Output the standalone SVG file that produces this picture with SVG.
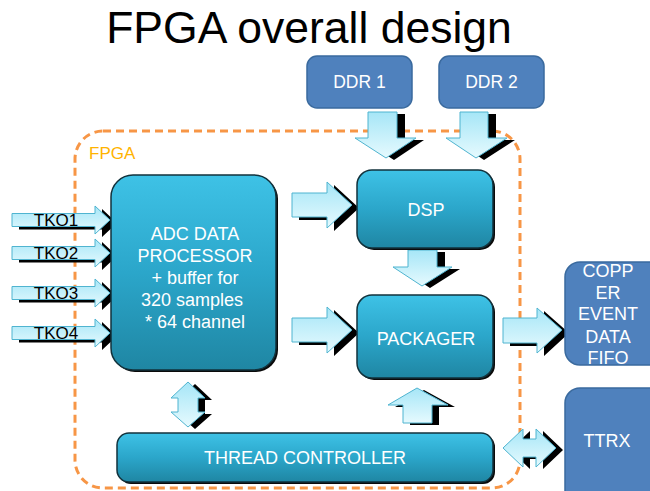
<svg xmlns="http://www.w3.org/2000/svg" xmlns:xlink="http://www.w3.org/1999/xlink" width="650" height="491" viewBox="0 0 650 491">
<style>
text{font-family:"Liberation Sans",Arial,sans-serif}
.title{font-size:44.5px;fill:#000}
.lbl{font-size:18px;fill:#fff;text-anchor:middle}
.tko{font-size:17px;fill:#000;text-anchor:middle}
.blue{fill:#4F81BD;stroke:#3A6A9E;stroke-width:1.5}
.box{fill:url(#boxg);stroke:#12323c;stroke-width:1.5}
.boxsh{fill:#0a0a0a}
.arr{fill:url(#arrg);stroke:#4FB4D0;stroke-width:1}
.sh{fill:#000}
.border{fill:none;stroke:#F79646;stroke-width:3;stroke-dasharray:8 5}
</style>
<defs>
<linearGradient id="boxg" x1="0" y1="0" x2="0" y2="1">
<stop offset="0" stop-color="#3EC2E6"/>
<stop offset="0.5" stop-color="#2BA6CA"/>
<stop offset="1" stop-color="#1F86A3"/>
</linearGradient>
<linearGradient id="arrg" x1="0" y1="0" x2="0" y2="1">
<stop offset="0" stop-color="#A6E6F7"/>
<stop offset="1" stop-color="#E6FAFE"/>
</linearGradient>
<path id="pT1" d="M12,213.5 H95 V206 L110,220 L95,234 V226.5 H12 Z"/>
<path id="pT2" d="M12,246.5 H95 V239 L110,253 L95,267 V259.5 H12 Z"/>
<path id="pT3" d="M12,286.5 H95 V279 L110,293 L95,307 V299.5 H12 Z"/>
<path id="pT4" d="M12,326.5 H95 V319 L110,333 L95,347 V339.5 H12 Z"/>
<path id="pD1" d="M368,112 H397 V138 H416 L386,158 L355,138 H368 Z"/>
<path id="pD2" d="M460,112 H488 V138 H507 L476,158 L446,138 H460 Z"/>
<path id="pDSP" d="M292,193 H327 V182 L352,205 L327,228 V217 H292 Z"/>
<path id="pPK" d="M292,318 H327 V307 L352,330 L327,353 V342 H292 Z"/>
<path id="pDP" d="M408,250 H437 V267 H452 L422,286 L393,267 H408 Z"/>
<path id="pOut" d="M503,318 H537 V308 L562,330 L537,353 V343 H503 Z"/>
<path id="pUp" d="M403,423 V405 H388 L417,388 L448,405 H432 V423 Z"/>
<path id="pV" d="M188,382 L205,398 H198 V412 H205 L188,427 L171,412 H178 V398 H171 Z"/>
<path id="pTT" d="M503,448 L523,429 V439 H536 V429 L556,448 L536,467 V457 H523 V467 Z"/>
</defs>
<rect width="650" height="491" fill="#fff"/>
<text class="title" x="309" y="43" text-anchor="middle">FPGA overall design</text>

<g id="fpga-boundary">
<rect class="border" x="75" y="131" width="445" height="357" rx="28"/>
<text x="89" y="159" style="font-size:17px;fill:#FFB300">FPGA</text>
</g>

<g id="connectors">
<use href="#pT1" class="sh" transform="translate(7,3)"/><use href="#pT1" class="arr"/>
<use href="#pT2" class="sh" transform="translate(7,3)"/><use href="#pT2" class="arr"/>
<use href="#pT3" class="sh" transform="translate(7,3)"/><use href="#pT3" class="arr"/>
<use href="#pT4" class="sh" transform="translate(7,3)"/><use href="#pT4" class="arr"/>
<use href="#pD1" class="sh" transform="translate(8,2)"/><use href="#pD1" class="arr"/>
<use href="#pD2" class="sh" transform="translate(8,2)"/><use href="#pD2" class="arr"/>
<use href="#pDSP" class="sh" transform="translate(7,3)"/><use href="#pDSP" class="arr"/>
<use href="#pPK" class="sh" transform="translate(7,3)"/><use href="#pPK" class="arr"/>
<use href="#pDP" class="sh" transform="translate(8,2)"/><use href="#pDP" class="arr"/>
<use href="#pOut" class="sh" transform="translate(7,3)"/><use href="#pOut" class="arr"/>
<use href="#pUp" class="sh" transform="translate(7,2)"/><use href="#pUp" class="arr"/>
<use href="#pV" class="sh" transform="translate(7,2)"/><use href="#pV" class="arr"/>
<use href="#pTT" class="sh" transform="translate(7,2)"/><use href="#pTT" class="arr"/>
<text class="tko" x="56" y="226">TKO1</text>
<text class="tko" x="56" y="259">TKO2</text>
<text class="tko" x="56" y="299">TKO3</text>
<text class="tko" x="56" y="339">TKO4</text>
</g>

<g id="ddr1">
<rect class="blue" x="307" y="56" width="105" height="52" rx="10"/>
<text class="lbl" x="359.5" y="88" style="font-size:17.5px">DDR 1</text>
</g>
<g id="ddr2">
<rect class="blue" x="439" y="56" width="105" height="52" rx="10"/>
<text class="lbl" x="491.5" y="88" style="font-size:17.5px">DDR 2</text>
</g>

<g id="adc">
<rect class="boxsh" x="113" y="177" width="165" height="195" rx="22"/>
<rect class="box" x="111" y="175" width="165" height="195" rx="22"/>
<text class="lbl" x="195" y="240">ADC DATA</text>
<text class="lbl" x="195" y="262">PROCESSOR</text>
<text class="lbl" x="195" y="284">+ buffer for</text>
<text class="lbl" x="192" y="306">320 samples</text>
<text class="lbl" x="195" y="328"> * 64 channel</text>
</g>

<g id="dsp">
<rect class="boxsh" x="359" y="172" width="136" height="78" rx="15"/>
<rect class="box" x="357" y="170" width="136" height="78" rx="15"/>
<text class="lbl" x="426" y="216">DSP</text>
</g>

<g id="packager">
<rect class="boxsh" x="359" y="297" width="136" height="83" rx="15"/>
<rect class="box" x="357" y="295" width="136" height="83" rx="15"/>
<text class="lbl" x="426" y="345">PACKAGER</text>
</g>

<g id="thread">
<rect class="boxsh" x="119" y="435" width="376" height="49" rx="12"/>
<rect class="box" x="117" y="433" width="376" height="49" rx="12"/>
<text class="lbl" x="305" y="464">THREAD CONTROLLER</text>
</g>

<g id="copper">
<rect class="blue" x="565" y="262" width="100" height="103" rx="15"/>
<text class="lbl" x="608" y="277">COPP</text>
<text class="lbl" x="608" y="299">ER</text>
<text class="lbl" x="608" y="320">EVENT</text>
<text class="lbl" x="608" y="343">DATA</text>
<text class="lbl" x="608" y="364">FIFO</text>
</g>

<g id="ttrx">
<rect class="blue" x="565" y="388" width="100" height="120" rx="15"/>
<text class="lbl" x="607" y="447">TTRX</text>
</g>
</svg>
